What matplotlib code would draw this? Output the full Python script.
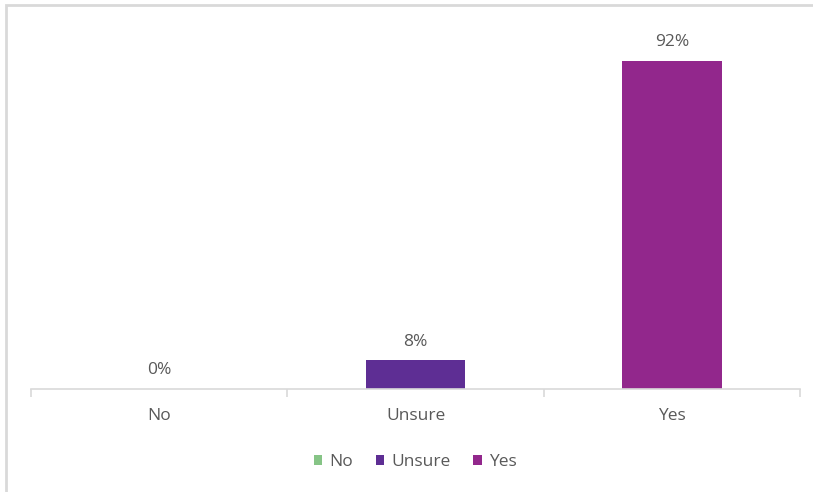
import matplotlib.pyplot as plt
from matplotlib.patches import Rectangle

categories = ['No', 'Unsure', 'Yes']
values = [0, 8, 92]
colors = ['#86c486', '#5e2e94', '#92278c']

plt.rcParams['font.family'] = ['Open Sans', 'DejaVu Sans']
text_color = '#595959'
fs = 12.5

fig = plt.figure(figsize=(8.13, 4.92), dpi=100)
ax = fig.add_axes([31 / 813, 1 - 389 / 492, (800 - 31) / 813, (389 - 32.5) / 492])

x = range(len(categories))
bars = ax.bar(x, values, width=0.39, color=colors, label=categories)
for xi, v in zip(x, values):
    ax.text(xi, v + 3, f'{v}%', ha='center', va='bottom', fontsize=fs, color=text_color)

ax.set_xlim(-0.5, 2.5)
ax.set_ylim(0, 100)
ax.set_yticks([])
for side in ['top', 'right', 'left']:
    ax.spines[side].set_visible(False)
ax.spines['bottom'].set_color('#d9d9d9')
ax.spines['bottom'].set_linewidth(1.2)
ax.set_xticks([-0.5, 0.5, 1.5, 2.5], minor=False)
ax.set_xticklabels([])
ax.tick_params(axis='x', which='major', length=6, color='#d9d9d9', width=1.2)
ax.set_xticks(list(x), minor=True)
ax.set_xticklabels(categories, minor=True)
ax.tick_params(axis='x', which='minor', length=0, pad=14, labelsize=fs, labelcolor=text_color)

leg = fig.legend(handles=list(bars), labels=categories, loc='center', bbox_to_anchor=(415 / 813, 1 - 462 / 492),
                 ncol=3, frameon=False, fontsize=fs, handlelength=0.5, handleheight=0.5,
                 handletextpad=0.4, columnspacing=1.3)
for t in leg.get_texts():
    t.set_color(text_color)

# outer chart frame
fig.patches.append(Rectangle((6 / 813, -0.05), 1.0, 1 - 5 / 492 + 0.05, transform=fig.transFigure,
                             fill=False, edgecolor='#d9d9d9', linewidth=2))

fig.savefig('out.png', dpi=100)
